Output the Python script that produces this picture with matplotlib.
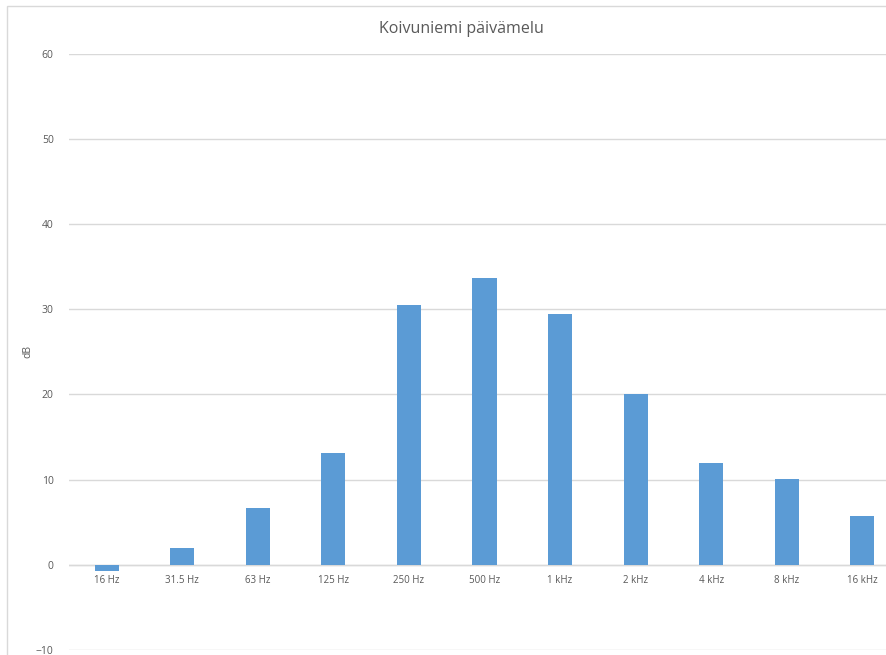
import matplotlib.pyplot as plt
from matplotlib.patches import Rectangle
from matplotlib.transforms import ScaledTranslation

bands = ['16 Hz', '31.5 Hz', '63 Hz', '125 Hz', '250 Hz', '500 Hz',
         '1 kHz', '2 kHz', '4 kHz', '8 kHz', '16 kHz']
levels = [-0.75, 2.0, 6.7, 13.1, 30.5, 33.7, 29.4, 20.1, 12.0, 10.1, 5.7]
y_ticks = [-10, 0, 10, 20, 30, 40, 50, 60]

plt.rcParams['font.family'] = ['Open Sans', 'DejaVu Sans']
text_col = '#595959'
grid_col = '#d9d9d9'

W, H = 886, 655
fig = plt.figure(figsize=(W / 100, H / 100), dpi=100)

# chart border (extends past right/bottom edge, like the screenshot)
fig.patches.append(Rectangle((7 / W, -0.1), 1.1, 1 - 6 / H + 0.1,
                             transform=fig.transFigure, fill=False,
                             edgecolor=grid_col, linewidth=1))

ax = fig.add_axes([69 / W, (H - 650) / H, (900 - 69) / W, (650 - 53.7) / H])
x = range(len(bands))
ax.bar(x, levels, width=0.32, color='#5b9bd5', zorder=3)
ax.set_xlim(-0.5, len(bands) - 0.5)
ax.set_ylim(-10, 60)
ax.set_yticks(y_ticks)
ax.yaxis.grid(True, color=grid_col, linewidth=1)
ax.set_axisbelow(True)
for s in ax.spines.values():
    s.set_visible(False)
ax.axhline(0, color=grid_col, linewidth=1, zorder=2)
ax.set_xticks([])

# band labels just below the zero line
offset = ax.transData + ScaledTranslation(0, -0.10, fig.dpi_scale_trans)
for i, b in enumerate(bands):
    ax.text(i, 0, b, transform=offset, ha='center', va='top',
            fontsize=7, color=text_col)

ax.tick_params(axis='y', length=0, labelsize=7.5, labelcolor=text_col, pad=11)
ax.set_ylabel('dB', fontsize=7.5, color=text_col)
ax.yaxis.set_label_coords((33 - 69) / 831, 0.5)

fig.text(461 / W, 1 - 29 / H, 'Koivuniemi päivämelu', ha='center', va='center',
         fontsize=11.5, color=text_col)

fig.savefig('out.png', dpi=100)
